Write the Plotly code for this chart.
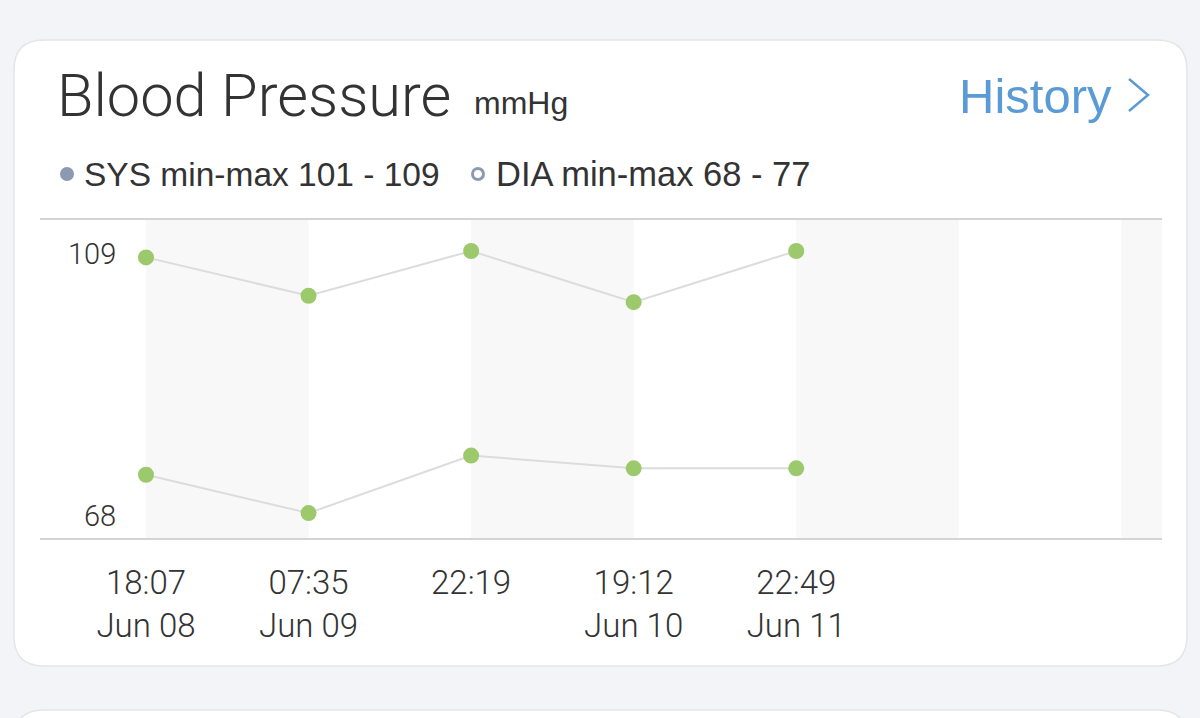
import plotly.graph_objects as go

# dados
horas = ["18:07", "07:35", "22:19", "19:12", "22:49"]
datas = ["Jun 08", "Jun 09", "", "Jun 10", "Jun 11"]
sys_vals = [108, 102, 109, 101, 109]
dia_vals = [74, 68, 77, 75, 75]
faixas = [0, 2, 4, 6]  # colunas sombreadas

W, H = 1200, 718
FONT = "Liberation Sans"
LIGHT = dict(family="Roboto", weight=300)
COLORS = {
    'bg': '#f3f4f7',
    'card': '#ffffff',
    'border': '#e4e5e9',
    'text': '#333333',
    'blue': '#5b9bd5',
    'dot': '#8b9ab1',
    'green': '#9cc96b',
    'line': '#dcdcdc',
    'band': '#f8f8f9',
    'axis': '#d4d4d4',
}


def px(x):
    return x / W


def py(y):
    return 1 - y / H


def card_path(x0, y0, x1, y1, r):
    rx, ry = r / W, r / H
    a, b, c, d = px(x0), py(y0), px(x1), py(y1)  # b = topo, d = base
    return (f"M{a + rx},{b} L{c - rx},{b} Q{c},{b} {c},{b - ry} "
            f"L{c},{d + ry} Q{c},{d} {c - rx},{d} L{a + rx},{d} "
            f"Q{a},{d} {a},{d + ry} L{a},{b - ry} Q{a},{b} {a + rx},{b} Z")


x_idx = list(range(len(horas)))
ticktext = [f"{h}<br>{d}" if d else h for h, d in zip(horas, datas)]

fig = go.Figure()

for serie in (sys_vals, dia_vals):
    fig.add_trace(go.Scatter(
        x=x_idx, y=serie, mode="lines+markers",
        line=dict(color=COLORS['line'], width=2),
        marker=dict(color=COLORS['green'], size=16),
        hoverinfo="skip", showlegend=False,
    ))

shapes = [
    # cartão principal
    dict(type="path", xref="paper", yref="paper", layer="below",
         path=card_path(14, 40, 1187, 666, 30),
         fillcolor=COLORS['card'], line=dict(color=COLORS['border'], width=1.5)),
    # próximo cartão (cortado)
    dict(type="path", xref="paper", yref="paper", layer="below",
         path=card_path(14, 710, 1187, 760, 30),
         fillcolor=COLORS['card'], line=dict(color=COLORS['border'], width=1.5)),
    # seta do History
    dict(type="path", xref="paper", yref="paper",
         path=f"M{px(1129)},{py(79)} L{px(1148)},{py(95)} L{px(1129)},{py(111)}",
         line=dict(color=COLORS['blue'], width=2.5)),
    # marcadores da legenda
    dict(type="circle", xref="paper", yref="paper", xsizemode="pixel", ysizemode="pixel",
         xanchor=px(67), yanchor=py(174), x0=-7, x1=7, y0=-7, y1=7,
         fillcolor=COLORS['dot'], line=dict(width=0)),
    dict(type="circle", xref="paper", yref="paper", xsizemode="pixel", ysizemode="pixel",
         xanchor=px(478), yanchor=py(174), x0=-5.5, x1=5.5, y0=-5.5, y1=5.5,
         fillcolor="white", line=dict(color=COLORS['dot'], width=3)),
]
for f in faixas:
    shapes.append(dict(type="rect", xref="x", yref="y domain", layer="below",
                       x0=f, x1=f + 1, y0=0, y1=1,
                       fillcolor=COLORS['band'], line=dict(width=0)))

annotations = [
    dict(text="Blood Pressure", x=px(55), y=py(96), xanchor="left", yanchor="middle",
         font=dict(**LIGHT, size=59.5, color=COLORS['text'])),
    dict(text="mmHg", x=px(472), y=py(103), xanchor="left", yanchor="middle",
         font=dict(family=FONT, size=32, color=COLORS['text'])),
    dict(text="History", x=px(1114), y=py(96), xanchor="right", yanchor="middle",
         font=dict(family=FONT, size=49, color=COLORS['blue'])),
    dict(text=f"SYS min-max {min(sys_vals)} - {max(sys_vals)}", x=px(82), y=py(174),
         xanchor="left", yanchor="middle",
         font=dict(family=FONT, size=33.5, color=COLORS['text'])),
    dict(text=f"DIA min-max {min(dia_vals)} - {max(dia_vals)}", x=px(494), y=py(174),
         xanchor="left", yanchor="middle",
         font=dict(family=FONT, size=34.5, color=COLORS['text'])),
]
for v in (max(sys_vals), min(dia_vals)):
    annotations.append(dict(text=str(v), x=-0.17, y=v, xref="x", yref="y",
                            xanchor="right", yanchor="middle", yshift=-3,
                            font=dict(**LIGHT, size=29, color=COLORS['text'])))

for a in annotations:
    a.setdefault("xref", "paper")
    a.setdefault("yref", "paper")
    a["showarrow"] = False

fig.update_layout(
    width=W, height=H,
    margin=dict(l=0, r=0, t=0, b=0),
    paper_bgcolor=COLORS['bg'],
    plot_bgcolor="rgba(0,0,0,0)",
    shapes=shapes,
    annotations=annotations,
    xaxis=dict(domain=[px(40), px(1162)], range=[-0.652, 6.25],
               tickvals=x_idx, ticktext=ticktext, ticks="",
               showgrid=False, zeroline=False,
               showline=True, mirror=True, linecolor=COLORS['axis'], linewidth=1.5,
               ticklabelstandoff=15,
               tickfont=dict(**LIGHT, size=33, color=COLORS['text'])),
    yaxis=dict(domain=[py(538), py(220)], range=[64.1, 113.85],
               showgrid=False, zeroline=False, showline=False, showticklabels=False),
)

fig.write_html(
    "out.html",
    config={'displayModeBar': False},
    post_script="document.body.style.margin='0';document.body.style.overflow='hidden';",
)
